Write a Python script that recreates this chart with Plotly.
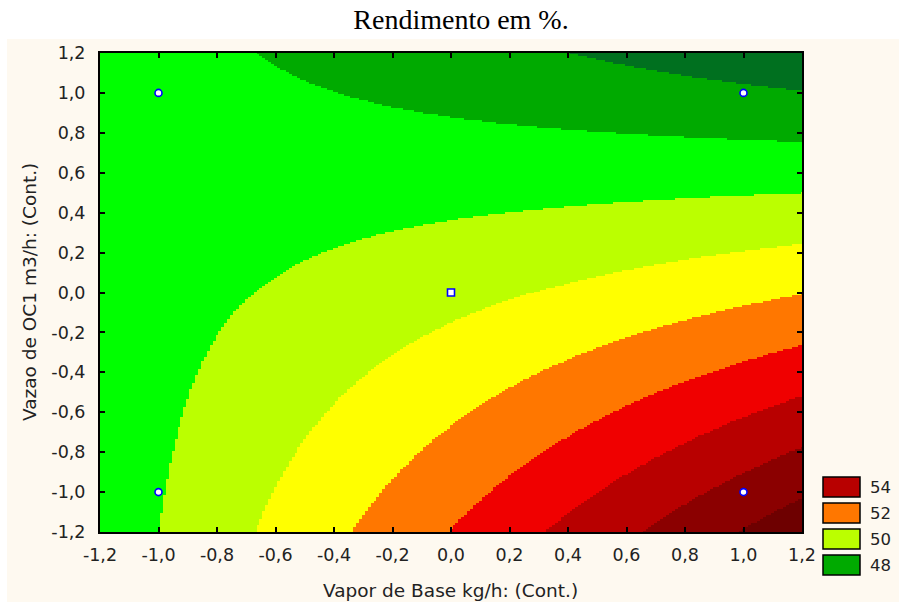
import numpy as np
import plotly.graph_objects as go

# ---- data: design points (coded units) and observed yield (%) ----
x_pts = [-1.0, 1.0, -1.0, 1.0, 0.0]
y_pts = [-1.0, -1.0, 1.0, 1.0, 0.0]
yield_pts = [48.94, 54.34, 48.37, 47.16, 49.71]
pt_symbols = ["circle", "circle", "circle", "circle", "square"]

# contour band edges and colours (band (k-1, k])
band_edges = [46, 47, 48, 49, 50, 51, 52, 53, 54, 55, 56]
band_colors = ["#00701F", "#00AA00", "#00FF00", "#BBFF00", "#FFFF00",
               "#FF7700", "#F00000", "#B80000", "#8B0000", "#6E0000"]

# legend entries
legend_labels = ["54", "52", "50", "48"]
legend_colors = ["#B80000", "#FF7700", "#BBFF00", "#00AA00"]

tick_vals = [-1.2, -1.0, -0.8, -0.6, -0.4, -0.2, 0.0, 0.2, 0.4, 0.6, 0.8, 1.0, 1.2]
tick_text = ["-1,2", "-1,0", "-0,8", "-0,6", "-0,4", "-0,2", "0,0",
             "0,2", "0,4", "0,6", "0,8", "1,0", "1,2"]

# ---- fit first-order model with interaction (as Statistica does) ----
X = np.column_stack([np.ones(5), x_pts, y_pts, np.array(x_pts) * np.array(y_pts)])
coef, *_ = np.linalg.lstsq(X, np.array(yield_pts), rcond=None)
gx = np.linspace(-1.2, 1.2, 241)
gy = np.linspace(-1.2, 1.2, 241)
GX, GY = np.meshgrid(gx, gy)
Z = coef[0] + coef[1] * GX + coef[2] * GY + coef[3] * GX * GY

zmin, zmax = band_edges[0], band_edges[-1]
cs = []
for i, c in enumerate(band_colors):
    lo = (band_edges[i] - zmin) / (zmax - zmin)
    hi = (band_edges[i + 1] - zmin) / (zmax - zmin)
    cs.append([lo, c])
    cs.append([hi, c])

fig = go.Figure()
fig.add_trace(go.Heatmap(x=gx, y=gy, z=Z, zmin=zmin, zmax=zmax,
                         colorscale=cs, showscale=False, hoverinfo="skip"))
fig.add_trace(go.Scatter(x=x_pts, y=y_pts, mode="markers", showlegend=False,
                         marker=dict(symbol=pt_symbols, size=7, color="white",
                                     line=dict(color="#0000FF", width=1.6))))

# layout geometry (pixels)
W, H = 899, 603
L, R, T, B = 100, 802, 53, 532


def px(xp):
    return (xp - L) / (R - L)


def py(yp):
    return (B - yp) / (B - T)


FONT = "DejaVu Sans, Arial"
axis_common = dict(range=[-1.2, 1.2], tickvals=tick_vals, ticktext=tick_text,
                   ticks="inside", ticklen=5, tickwidth=1.5, tickcolor="black",
                   showline=True, linecolor="black", linewidth=2, mirror="ticks",
                   showgrid=False, zeroline=False,
                   tickfont=dict(family=FONT, size=17.5, color="#222222"))

fig.update_layout(
    width=W, height=H,
    margin=dict(l=L, r=W - R, t=T, b=H - B),
    paper_bgcolor="white", plot_bgcolor="#FEF9F0",
    xaxis=dict(axis_common, ticklabelstandoff=6),
    yaxis=dict(axis_common, ticklabelstandoff=9),
    title=dict(text="Rendimento em %.", x=461 / W, xref="container", xanchor="center",
               y=1 - 19 / H, yref="container", yanchor="middle",
               font=dict(family="Liberation Serif, Times New Roman", size=28, color="black")),
)

shapes = [dict(type="rect", xref="paper", yref="paper", layer="below",
               x0=px(7), x1=px(899), y0=py(602), y1=py(39),
               fillcolor="#FEF9F0", line=dict(width=0))]
annotations = [
    dict(text="Vapor de Base kg/h: (Cont.)", xref="paper", yref="paper",
         x=px(450), y=py(590), showarrow=False, xanchor="center", yanchor="middle",
         font=dict(family=FONT, size=18.5, color="#222222")),
    dict(text="Vazao de OC1 m3/h: (Cont.)", xref="paper", yref="paper",
         x=px(29), y=py(292), showarrow=False, textangle=-90,
         xanchor="center", yanchor="middle",
         font=dict(family=FONT, size=18.5, color="#222222")),
]
box_tops = [477, 503, 529, 555]
for lab, col, top in zip(legend_labels, legend_colors, box_tops):
    shapes.append(dict(type="rect", xref="paper", yref="paper",
                       x0=px(823), x1=px(860), y0=py(top + 20), y1=py(top),
                       fillcolor=col, line=dict(color="black", width=1.5)))
    annotations.append(dict(text=lab, xref="paper", yref="paper",
                            x=px(868), y=py(top + 10), showarrow=False,
                            xanchor="left", yanchor="middle",
                            font=dict(family=FONT, size=16.5, color="#222222")))
fig.update_layout(shapes=shapes, annotations=annotations)

fig.write_html("out.html")
